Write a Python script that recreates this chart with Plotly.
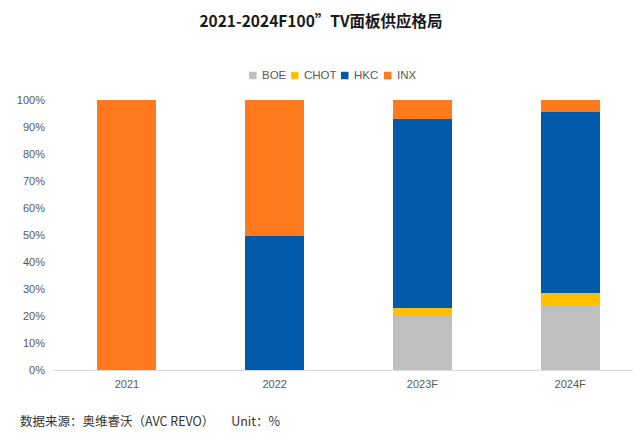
import plotly.graph_objects as go

years = ["2021", "2022", "2023F", "2024F"]
boe = [0, 0, 20, 24]
chot = [0, 0, 3, 4.5]
hkc = [0, 49.5, 70, 67]
inx = [100, 50.5, 7, 4.5]

series = [
    ("BOE", boe, "#BFBFBF"),
    ("CHOT", chot, "#FFC000"),
    ("HKC", hkc, "#005AAB"),
    ("INX", inx, "#FF7A1C"),
]

# page renders with an 8px body margin; layout is designed in shifted pixels
W, H = 636, 434
L, T, B = 45, 92, 72
PW = W - L
PH = H - T - B


def px_x(px):
    return (px - 8 - L) / PW


def px_y(py):
    return (H - B - (py - 8)) / PH


fig = go.Figure()
for name, vals, color in series:
    fig.add_trace(go.Bar(
        x=years, y=[v / 100 for v in vals], name=name,
        marker=dict(color=color, line=dict(width=0)),
        width=0.4, showlegend=False,
        hovertemplate="%{x}: %{y:.1%}<extra>" + name + "</extra>",
    ))

# compact legend drawn as small squares and labels
legend_sq_x = [249, 291, 341, 384]
legend_y = 75.5
shapes = []
annotations = []
for (name, _, color), sx in zip(series, legend_sq_x):
    shapes.append(dict(
        type="rect", xref="paper", yref="paper",
        x0=px_x(sx), x1=px_x(sx + 7.5),
        y0=px_y(legend_y + 3.75), y1=px_y(legend_y - 3.75),
        fillcolor=color, line=dict(width=0),
    ))
    annotations.append(dict(
        text=name, xref="paper", yref="paper",
        x=px_x(sx + 11), xanchor="left",
        y=px_y(legend_y), yanchor="middle",
        showarrow=False,
        font=dict(family="Liberation Sans, Arial, sans-serif", size=11.5, color="#595959"),
    ))

annotations.append(dict(
    text="数据来源：奥维睿沃（AVC REVO）      Unit：%",
    xref="paper", yref="paper",
    x=px_x(18), xanchor="left",
    y=px_y(420), yanchor="middle",
    showarrow=False,
    font=dict(family="Noto Sans CJK SC", size=12.5, color="#333333"),
))

fig.update_layout(
    width=W, height=H,
    barmode="stack",
    paper_bgcolor="white", plot_bgcolor="white",
    margin=dict(l=L, r=0, t=T, b=B, autoexpand=False),
    font=dict(family="Liberation Sans, Arial, sans-serif", color="#595959", size=11),
    title=dict(
        text="2021-2024F100”TV面板供应格局",
        font=dict(family="Noto Sans CJK SC", size=15.5, color="#1a1a1a", weight="bold"),
        x=px_x(321) * PW / W + L / W, xanchor="center",
        y=1 - (22 - 8) / H, yanchor="middle",
    ),
    showlegend=False,
    xaxis=dict(
        type="category", range=[-0.5, 3.5],
        showline=True, linecolor="#D9D9D9", linewidth=1,
        ticks="", showgrid=False,
        tickfont=dict(size=11, color="#595959"),
        ticklabelstandoff=4,
    ),
    yaxis=dict(
        range=[0, 1], dtick=0.1, tickformat=".0%",
        showgrid=False, zeroline=False, showline=False,
        tickfont=dict(size=11, color="#595959"),
        ticklabelstandoff=7,
    ),
    shapes=shapes,
    annotations=annotations,
)

fig.write_html("out.html")
